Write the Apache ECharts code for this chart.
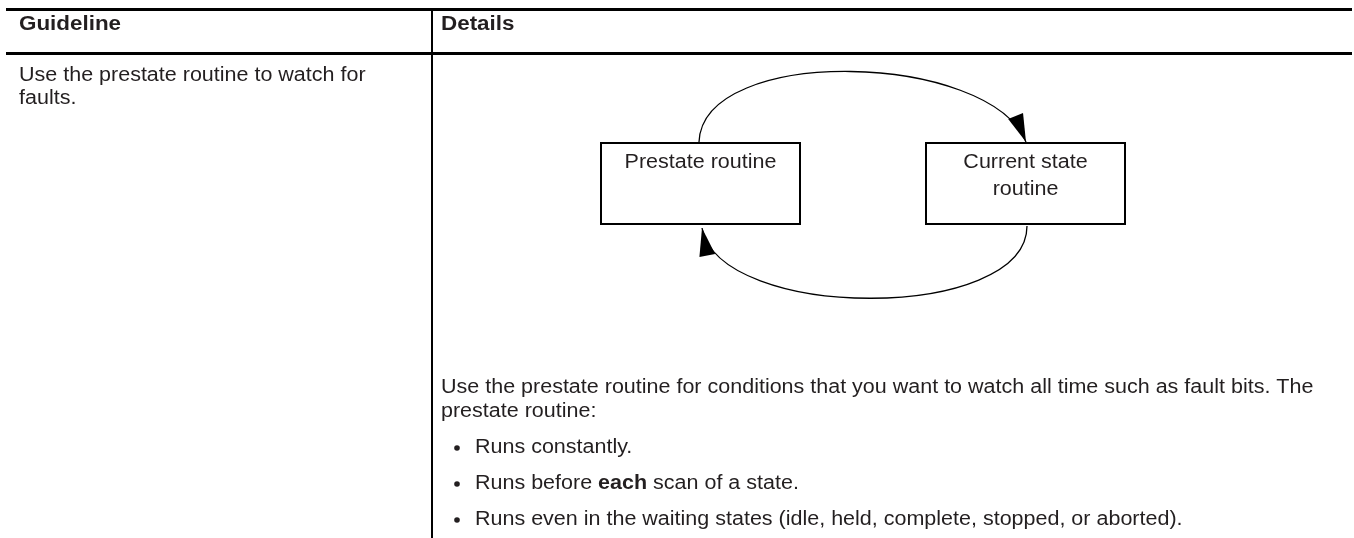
<!DOCTYPE html>
<html><head><meta charset="utf-8">
<script src="https://cdn.jsdelivr.net/npm/echarts@6/dist/echarts.min.js"></script>
<style>html,body{margin:0;padding:0;background:#fff}#c{width:1354px;height:538px}</style>
</head><body><div id="c"></div>
<script>
// ---- content ----
const headers = ['Guideline', 'Details'];
const guidelineLines = ['Use the prestate routine to watch for', 'faults.'];
const nodeLabels = [['Prestate routine'], ['Current state', 'routine']];
const paragraphLines = ['Use the prestate routine for conditions that you want to watch all time such as fault bits. The', 'prestate routine:'];
const bullets = ['Runs constantly.', 'Runs before **each** scan of a state.', 'Runs even in the waiting states (idle, held, complete, stopped, or aborted).'];

// ---- layout / style ----
const FONT = "'Liberation Sans Narrow','Arial Narrow',sans-serif";
const FS = 20;
const SX = 1.075, SXB = 1.12;
const INK = '#231f20';
const chart = echarts.init(document.getElementById('c'), null, {renderer: 'canvas'});
const els = [];

function line(x1, y1, x2, y2, w) {
  els.push({type: 'line', shape: {x1, y1, x2, y2}, style: {stroke: '#000', lineWidth: w}, silent: true});
}
function text(t, x, y, opts) {
  opts = opts || {};
  els.push({type: 'text', x, y, scaleX: opts.bold ? SXB : SX, silent: true, style: {
    text: t, fill: INK, font: (opts.bold ? 'bold ' : '') + FS + 'px ' + FONT,
    textVerticalAlign: 'middle', textAlign: opts.align || 'left'
  }});
}
function richText(s, x, y) {
  const parts = s.split('**');
  const str = parts.map((p, i) => p ? '{' + (i % 2 ? 'b' : 'n') + '|' + p + '}' : '').join('');
  els.push({type: 'text', x, y, scaleX: SX, silent: true, style: {
    text: str, textVerticalAlign: 'middle',
    rich: {
      n: {fontFamily: FONT, fontSize: FS, fill: INK, color: INK},
      b: {fontFamily: FONT, fontSize: FS, fontWeight: 'bold', fill: INK, color: INK}
    }
  }});
}

// table rules
line(6, 9.5, 1352, 9.5, 3);
line(6, 53.5, 1352, 53.5, 3);
line(432, 9, 432, 538, 2);

// headers
text(headers[0], 19, 24, {bold: true});
text(headers[1], 441, 24, {bold: true});

// left column
guidelineLines.forEach((t, i) => text(t, 19, 75.5 + i * 22.5));

// diagram boxes
const boxes = [{x: 601, y: 143, w: 199, h: 81}, {x: 926, y: 143, w: 199, h: 81}];
boxes.forEach((b, i) => {
  els.push({type: 'rect', shape: {x: b.x, y: b.y, width: b.w, height: b.h}, style: {fill: '#fff', stroke: '#000', lineWidth: 2}, silent: true});
  nodeLabels[i].forEach((t, j) => text(t, b.x + b.w / 2, 162 + j * 27, {align: 'center'}));
});

// arcs with arrowheads
function arc(p0, p1, p2, p3) {
  els.push({type: 'bezierCurve', shape: {x1: p0[0], y1: p0[1], cpx1: p1[0], cpy1: p1[1], cpx2: p2[0], cpy2: p2[1], x2: p3[0], y2: p3[1]},
    style: {stroke: '#000', lineWidth: 1.3, fill: null}, silent: true});
  const dx = p3[0] - p2[0], dy = p3[1] - p2[1], L = Math.hypot(dx, dy);
  const ux = dx / L, uy = dy / L, len = 28, hw = 8;
  const bx = p3[0] - ux * len, by = p3[1] - uy * len;
  els.push({type: 'polygon', shape: {points: [[p3[0], p3[1]], [bx - uy * hw, by + ux * hw], [bx + uy * hw, by - ux * hw]]},
    style: {fill: '#000'}, silent: true});
}
arc([699, 142], [703, 44], [990, 52], [1026, 142]);
arc([1027, 226], [1027, 322], [720, 322], [702, 228]);

// paragraph
paragraphLines.forEach((t, i) => text(t, 441, 387 + i * 24));
bullets.forEach((t, i) => {
  const y = 447 + i * 36;
  els.push({type: 'circle', shape: {cx: 457, cy: y + 1, r: 2.8}, style: {fill: INK}, silent: true});
  richText(t, 475, y);
});

chart.setOption({animation: false, graphic: {elements: els}});
</script>
</body></html>
